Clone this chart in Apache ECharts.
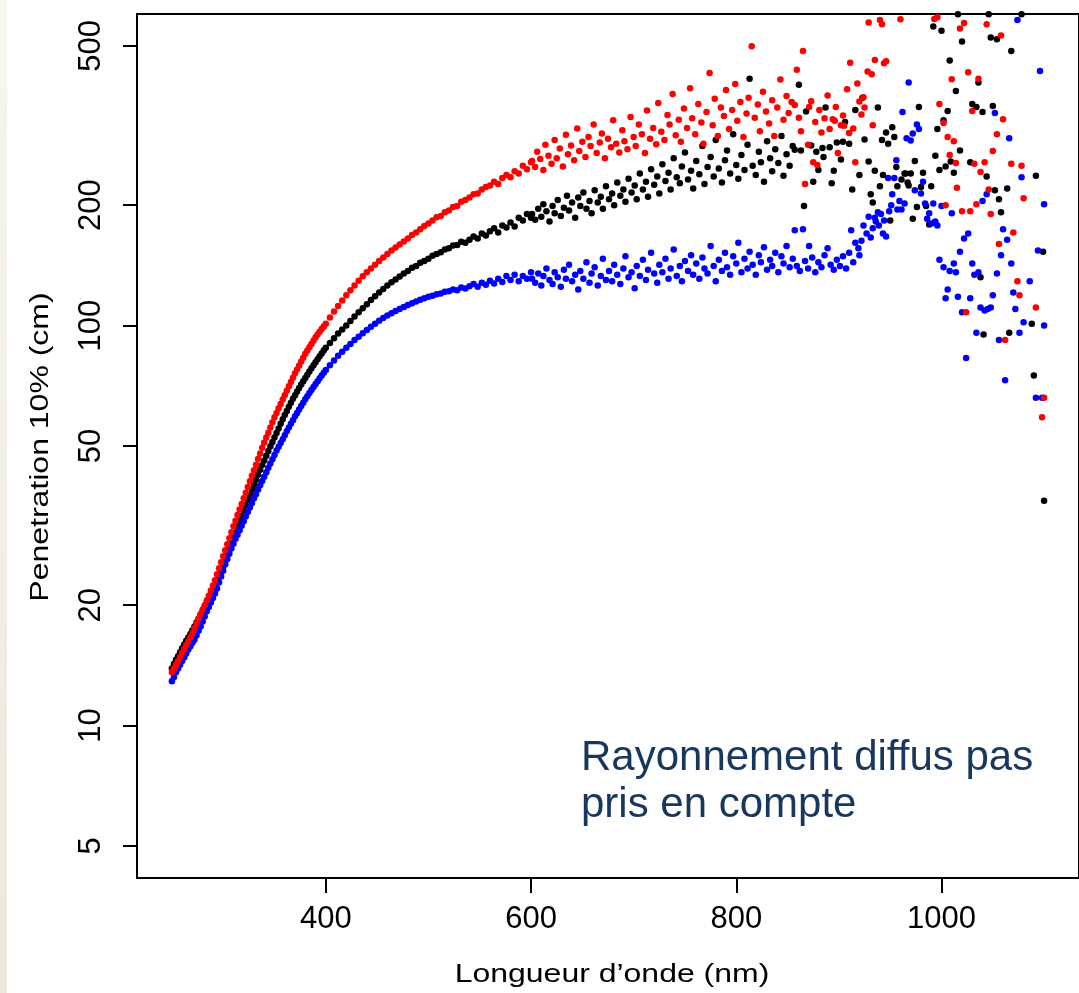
<!DOCTYPE html>
<html>
<head>
<meta charset="utf-8">
<script src="https://cdn.jsdelivr.net/npm/echarts@6/dist/echarts.min.js"></script>
<style>
html,body{margin:0;padding:0;background:#fff;}
#chart{width:1079px;height:993px;}
</style>
</head>
<body>
<div id="chart"></div>
<script>
// ---------- DATA ----------
const xTicks = [400, 600, 800, 1000];
const yTicks = [5, 10, 20, 50, 100, 200, 500];

// wavelengths (nm) of the smooth part of the three curves
const wavelengths = [250,252,254,256,258,260,262,264,266,268,270,272,274,276,278,280,282,284,286,288,290,292,294,296,298,300,302,304,306,308,310,312,314,316,318,320,322,324,326,328,330,332,334,336,338,340,342,344,346,348,350,352,354,356,358,360,362,364,366,368,370,372,374,376,378,380,382,384,386,388,390,392,394,396,398,400,
404,408,412,416,420,424,428,432,436,440,444,448,452,456,460,464,468,472,476,480,484,488,492,496,500,504,508,512,516,520,524,528,532,536,540,544,548,552,556,560,564,568,572,576,580,584,588,592,596,600];

const redSmooth = [13.6,13.9,14.2,14.5,14.85,15.2,15.55,15.9,16.25,16.6,17.0,17.5,18.0,18.5,19.0,19.5,20.0,20.55,21.1,21.75,22.4,23.1,23.9,24.75,25.6,26.5,27.45,28.4,29.4,30.45,31.5,32.5,33.6,34.7,35.8,37.0,38.2,39.5,40.8,42.1,43.5,44.9,46.4,47.9,49.5,51.0,52.5,54.0,55.6,57.3,59.0,60.5,62.1,63.7,65.3,67.0,68.7,70.5,72.3,74.1,76.0,77.7,79.5,81.3,83.1,85.0,86.6,88.3,90.0,91.7,93.5,95.0,96.5,98.0,99.5,101,
104.7,108.4,112,115.5,119,122.5,126,129.5,132.8,136,139,142,145,148,151,154,156.8,159.5,162.3,165,168.5,171,174,177.5,180,183,186.5,188,192,194,198,199,204,206,209,213,214,219,222,224,229,226,234,238,235,243,240,251,246,256];

const blackSmooth = [13.9,14.25,14.6,14.9,15.25,15.6,15.95,16.3,16.6,16.95,17.3,17.7,18.1,18.5,18.9,19.3,19.8,20.3,20.8,21.3,21.8,22.4,23.0,23.6,24.3,25.0,25.8,26.7,27.6,28.5,29.5,30.4,31.4,32.4,33.4,34.5,35.6,36.7,37.8,38.9,40.0,41.2,42.4,43.6,44.8,46.0,47.3,48.6,49.9,51.2,52.5,53.9,55.3,56.8,58.3,59.8,61.2,62.7,64.1,65.6,67.0,68.4,69.8,71.2,72.6,74.0,75.4,76.8,78.2,79.6,81.0,82.4,83.8,85.2,86.6,88.0,
90.5,93,95.5,97.8,100,102.7,105.3,108,110.5,113,115.8,118.4,121,123.5,126,128.3,130.4,132.7,135,137,139.5,141,143.5,145,147,149.5,151,152.5,155,156,158.5,159,162,161,164,167,165,170,168,172,175,171,178,176,181,177,186,183,190,186];

const blueSmooth = [12.9,13.2,13.6,13.9,14.2,14.5,14.8,15.15,15.5,15.8,16.1,16.4,16.8,17.25,17.7,18.2,18.75,19.3,19.8,20.3,20.85,21.4,22.0,22.8,23.6,24.4,25.3,26.1,26.9,27.7,28.5,29.3,30.0,30.8,31.6,32.4,33.3,34.2,35.1,36.0,37.0,37.9,38.9,39.9,40.9,41.9,43.0,44.1,45.2,46.3,47.5,48.7,49.8,50.9,52.0,53.2,54.4,55.6,56.8,58.0,59.3,60.5,61.7,62.9,64.1,65.4,66.6,67.8,69.0,70.2,71.4,72.6,73.8,75.0,76.2,77.4,
79.6,81.8,84,86,88,90,92,93.8,95.7,97.5,99.3,101,102.8,104.4,106,107.3,108.8,110,111.3,112.5,113.8,114.8,116,117,118,118.8,119.8,120.3,121.5,121.8,123,122.5,124.5,123.8,125.5,127,125,128,126.5,129.5,127.5,131,128.5,133,130,134,129,133,131,136];

// scattered part beyond 600 nm: [wavelength, penetration]
const redScatter = [[601,258],[604,249],[606,272],[609,261],[612,245],[614,283],[617,266],[620,254],[623,291],[625,262],[628,277],[631,250],[634,300],[636,268],[639,282],[642,259],[645,311],[647,273],[650,288],[653,264],[656,296],[658,281],[661,318],[664,270],[667,287],[669,302],[672,262],[675,293],[678,279],[680,326],[683,285],[686,271],[689,308],[691,289],[694,276],[697,332],[700,296],[702,281],[705,318],[708,301],[711,270],[713,345],[716,293],[719,312],[722,284],[724,360],[727,305],[730,291],[733,336],[735,318],[738,379],[741,299],[744,327],[746,288],[749,349],[752,312],[755,392],[757,330],[760,301],[763,358],[766,322],[768,285],[771,342],[774,428],[777,317],[779,369],[782,298],[785,351],[788,334],[790,388],[793,310],[796,346],[799,402],[801,325],[804,362],[807,296],[810,339],[812,371],[815,499],[818,331],[821,357],[823,306],[826,384],[829,343],[832,320],[835,366],[837,298],[840,351],[843,412],[846,327],[849,375],[851,340],[854,362],
[857,356],[859,436],[861,331],[863,306],[865,486],[867,226],[870,283],[871,352],[873,364],[875,256],[877,323],[879,252],[881,346],[883,304],[886,330],[889,376],[891,310],[894,328],[896,325],[897,352],[899,270],[902,317],[904,335],[905,316],[908,390],[910,303],[911,454],[914,311],[916,256],[918,403],[920,363],[922,337],[924,372],[925,351],[928,432],[929,572],[932,425],[933,317],[935,461],[940,581],[942,567],[944,453],[946,458],[960,583],[993,584],[996,590],[998,358],[1002,321],[1004,200],[1006,296],[1008,267],[1010,413],[1012,289],[1014,255],[1015,221],[1018,553],[1020,193],[1022,571],[1024,108],[1026,430],[1028,193],[1030,344],[1032,254],[1034,201],[1036,414],[1038,242],[1042,256],[1044,567],[1046,219],[1048,190],[1050,273],[1054,301],[1056,160],[1058,531],[1060,328],[1062,92],[1068,254],[1070,171],[1074,129],[1076,119],[1078,251],[1080,208],[1092,111],[1098,59],[1100,66]];

const blackScatter = [[601,190],[604,184],[607,196],[610,187],[612,201],[615,193],[618,182],[621,199],[623,191],[626,206],[629,188],[632,197],[635,211],[637,194],[640,203],[643,186],[646,209],[648,199],[651,215],[654,196],[657,205],[659,191],[662,218],[665,203],[668,210],[670,196],[673,223],[676,207],[679,214],[681,200],[684,228],[687,211],[690,219],[692,204],[695,233],[698,215],[701,224],[703,207],[706,240],[709,219],[712,229],[714,210],[717,246],[720,225],[723,236],[725,214],[728,253],[731,230],[734,241],[736,219],[739,262],[742,235],[745,227],[747,250],[750,271],[753,232],[756,244],[758,220],[761,258],[764,239],[767,281],[769,226],[772,249],[775,264],[778,236],[780,291],[783,247],[786,228],[789,259],[791,274],[794,240],[797,301],[800,252],[802,233],[805,267],[808,245],[811,283],[813,414],[816,251],[819,238],[822,272],[824,256],[827,229],[830,289],[833,262],[835,243],[838,276],[841,255],[844,298],[846,237],[849,268],[852,251],[855,281],
[857,275],[861,400],[863,274],[866,199],[868,343],[873,282],[875,229],[878,272],[880,245],[884,278],[885,264],[887,351],[891,279],[893,227],[895,244],[898,287],[902,260],[904,288],[906,323],[910,285],[913,219],[916,346],[920,238],[923,371],[925,292],[929,257],[931,213],[933,203],[935,244],[938,351],[940,223],[942,291],[943,238],[946,304],[948,285],[950,183],[952,313],[954,296],[956,249],[957,223],[961,232],[964,240],[965,240],[967,228],[968,224],[970,240],[972,185],[974,258],[976,198],[978,352],[980,222],[982,241],[985,199],[988,179],[990,223],[992,559],[994,266],[996,310],[998,245],[1000,546],[1002,326],[1004,250],[1006,344],[1008,460],[1009,257],[1012,241],[1014,386],[1016,600],[1018,274],[1020,513],[1028,256],[1030,358],[1034,352],[1036,405],[1038,132],[1040,342],[1041,95],[1044,236],[1046,600],[1048,525],[1050,354],[1052,218],[1054,520],[1056,207],[1058,192],[1064,220],[1066,96],[1068,486],[1078,600],[1088,101],[1090,75],[1092,237],[1099,153],[1100,36.5]];

const blueScatter = [[601,131],[604,128],[607,135],[610,126],[612,133],[615,139],[618,130],[621,127],[623,136],[626,132],[629,125],[632,138],[634,131],[637,142],[640,129],[643,134],[646,123],[648,137],[651,131],[654,144],[657,128],[659,135],[662,140],[665,126],[668,133],[670,147],[673,130],[676,137],[679,129],[681,142],[684,134],[687,127],[690,139],[692,149],[695,132],[698,136],[701,124],[703,141],[706,133],[709,146],[712,130],[714,138],[717,152],[720,135],[723,128],[725,142],[728,136],[731,147],[734,131],[736,139],[739,155],[742,133],[745,141],[747,129],[750,145],[753,137],[756,150],[758,134],[761,143],[764,131],[767,148],[769,139],[772,135],[775,158],[778,141],[780,129],[783,146],[786,137],[789,152],[791,140],[794,134],[797,149],[800,143],[802,161],[805,136],[808,147],[811,139],[813,153],[816,142],[819,134],[822,150],[824,144],[827,157],[830,138],[833,146],[835,141],[838,152],[841,136],[844,149],[846,143],[849,158],[852,140],[855,147],
[857,173],[859,141],[862,137],[865,174],[867,145],[870,139],[871,158],[874,148],[877,136],[880,144],[883,140],[886,150],[889,156],[892,142],[895,138],[898,146],[901,141],[904,149],[907,139],[910,152],[912,173],[914,144],[916,161],[919,156],[920,150],[922,163],[924,178],[927,170],[929,187],[931,166],[933,175],[935,186],[936,182],[938,192],[939,178],[941,190],[943,170],[944,183],[946,167],[948,234],[949,193],[951,200],[952,213],[954,234],[956,259],[957,195],[959,205],[961,195],[962,342],[964,202],[966,294],[968,405],[970,290],[972,302],[974,218],[976,318],[978,310],[980,214],[982,229],[984,202],[986,185],[988,191],[990,180],[992,202],[993,181],[994,182],[996,178],[998,146],[1000,199],[1002,140],[1004,117],[1006,123],[1008,137],[1010,191],[1012,143],[1014,136],[1016,118],[1018,153],[1020,108],[1022,165],[1024,83],[1026,170],[1028,117],[1030,143],[1032,134],[1034,96],[1036,136],[1038,111],[1040,205],[1042,109],[1044,213],[1045,110],[1048,111],[1050,119],[1052,340],[1054,135],[1056,92],[1058,150],[1060,174],[1062,73],[1064,164],[1066,294],[1068,143],[1070,121],[1072,110],[1074,581],[1076,96],[1078,235],[1080,102],[1086,129],[1092,66],[1094,154],[1096,433],[1098,66],[1100,201],[1100,100]];

const xTitle = 'Longueur d\u2019onde (nm)';
const yTitle = 'Penetration 10% (cm)';
const noteLines = ['Rayonnement diffus pas', 'pris en compte'];

// ---------- CHART ----------
function zip(xs, ys) { return xs.map((x, i) => [x, ys[i]]); }
const FONT = '"Liberation Sans", Arial, Helvetica, sans-serif';

const chart = echarts.init(document.getElementById('chart'), null, {renderer: 'canvas'});

function dotSeries(name, color, data) {
  return {
    name: name, type: 'scatter', data: data,
    symbol: 'circle', symbolSize: 6.5,
    itemStyle: {color: color, opacity: 1},
    clip: true, silent: true, animation: false
  };
}

chart.setOption({
  animation: false,
  backgroundColor: '#ffffff',
  grid: {left: 137, top: 14, right: -6, bottom: 115, show: true,
         borderColor: '#000', borderWidth: 2, backgroundColor: 'transparent'},
  xAxis: {
    type: 'value', min: 216, max: 1134,
    axisLine: {show: false},
    splitLine: {show: false},
    axisTick: {show: true, length: 15, inside: false, customValues: xTicks,
               lineStyle: {color: '#000', width: 2}},
    axisLabel: {show: true, customValues: xTicks, fontSize: 31, fontFamily: FONT,
                color: '#000', margin: 41, verticalAlign: 'middle',
                formatter: v => String(Math.round(v))}
  },
  yAxis: {
    type: 'log', logBase: 10, min: 4.1589, max: 601.1,
    axisLine: {show: false},
    splitLine: {show: false},
    minorTick: {show: false},
    axisTick: {show: true, length: 14, inside: false, customValues: yTicks,
               lineStyle: {color: '#000', width: 2}},
    axisLabel: {show: true, customValues: yTicks, rotate: 90, fontSize: 31, fontFamily: FONT,
                color: '#000', margin: 46, verticalAlign: 'middle', align: 'center',
                formatter: v => String(Math.round(v))}
  },
  series: [
    dotSeries('noir', '#000000', zip(wavelengths, blackSmooth).concat(blackScatter)),
    dotSeries('bleu', '#0000ff', zip(wavelengths, blueSmooth).concat(blueScatter)),
    dotSeries('rouge', '#ff0000', zip(wavelengths, redSmooth).concat(redScatter))
  ],
  graphic: [
    {type: 'rect', z: 100, shape: {x: 0, y: 0, width: 7, height: 993},
     style: {fill: new echarts.graphic.LinearGradient(0, 0, 0, 1, [
       {offset: 0, color: '#f6f5ef'}, {offset: 1, color: '#ebe8dc'}])}},
    {type: 'text', z: 100, x: 41, y: 447, rotation: Math.PI / 2, scaleX: 1.23,
     style: {text: yTitle, font: '26px ' + FONT, fill: '#000', align: 'center', verticalAlign: 'middle'}},
    {type: 'text', z: 100, x: 612, y: 975, scaleX: 1.23,
     style: {text: xTitle, font: '26px ' + FONT, fill: '#000', align: 'center', verticalAlign: 'middle'}},
    {type: 'text', z: 100, x: 581, y: 758,
     style: {text: noteLines[0], font: '42px ' + FONT, fill: '#17375e', align: 'left', verticalAlign: 'middle'}},
    {type: 'text', z: 100, x: 581, y: 805,
     style: {text: noteLines[1], font: '42px ' + FONT, fill: '#17375e', align: 'left', verticalAlign: 'middle'}}
  ]
});
</script>
</body>
</html>
